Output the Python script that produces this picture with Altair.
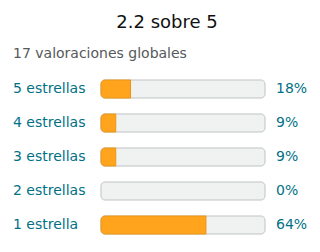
import altair as alt
import pandas as pd

labels = ["5 estrellas", "4 estrellas", "3 estrellas", "2 estrellas", "1 estrella"]
percents = [18, 9, 9, 0, 64]
title_text = "2.2 sobre 5"
subtitle_text = "17 valoraciones globales"

df = pd.DataFrame({
    "label": labels,
    "pct": percents,
    "row": list(range(len(labels))),
    "full": [100] * len(labels),
    "zero": [0] * len(labels),
    "pct_label": [f"{p}%" for p in percents],
})

FONT = "DejaVu Sans"
xs = alt.Scale(domain=[0, 100], range=[101, 265], padding=0, nice=False, zero=False)
ys = alt.Scale(domain=[0, 4], range=[89, 225], padding=0, nice=False, zero=False)

base = alt.Chart(df)

track = base.mark_bar(
    orient="horizontal", height=18, cornerRadius=4,
    fill="#F0F2F2", stroke="#BFC3C3", strokeWidth=1,
).encode(
    x=alt.X("zero:Q", scale=xs, axis=None),
    x2="full:Q",
    y=alt.Y("row:Q", scale=ys, axis=None),
)

fill = base.transform_filter("datum.pct > 0").mark_bar(
    orient="horizontal", height=18,
    cornerRadiusTopLeft=4, cornerRadiusBottomLeft=4,
    fill="#FFA41C", stroke="#E8961A", strokeWidth=1,
).encode(
    x=alt.X("zero:Q", scale=xs, axis=None),
    x2="pct:Q",
    y=alt.Y("row:Q", scale=ys, axis=None),
)

left_text = base.mark_text(
    align="left", baseline="middle", font=FONT, fontSize=14, color="#007185",
).encode(
    x=alt.value(13),
    y=alt.Y("row:Q", scale=ys, axis=None),
    text="label:N",
)

right_text = base.mark_text(
    align="left", baseline="middle", font=FONT, fontSize=14, color="#007185",
).encode(
    x=alt.value(276),
    y=alt.Y("row:Q", scale=ys, axis=None),
    text="pct_label:N",
)

title = alt.Chart(pd.DataFrame({"t": [title_text]})).mark_text(
    align="center", baseline="middle", font=FONT, fontSize=18, color="#0F1111",
).encode(x=alt.value(167), y=alt.value(23), text="t:N")

subtitle = alt.Chart(pd.DataFrame({"t": [subtitle_text]})).mark_text(
    align="left", baseline="middle", font=FONT, fontSize=14, color="#565959",
).encode(x=alt.value(13), y=alt.value(54), text="t:N")

chart = alt.layer(track, fill, left_text, right_text, title, subtitle).properties(
    width=320, height=252, autosize=alt.AutoSizeParams(type="none"), padding=0,
).configure(background="white").configure_view(stroke=None)

chart.save("out.html", embed_options={"renderer": "svg", "actions": False})
